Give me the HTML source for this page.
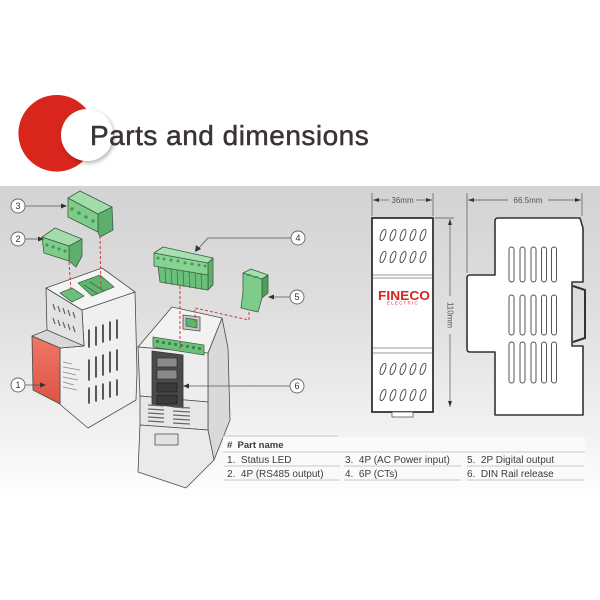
<!DOCTYPE html>
<html><head><meta charset="utf-8">
<style>
html,body{margin:0;padding:0;background:#fff;}
svg{display:block;}
text{font-family:"Liberation Sans",Arial,sans-serif;}
</style></head><body>
<svg width="600" height="600" viewBox="0 0 600 600" xmlns="http://www.w3.org/2000/svg">
<defs>
<linearGradient id="bg" x1="0" y1="0" x2="0" y2="1">
<stop offset="0" stop-color="#d3d3d3"/>
<stop offset="0.4" stop-color="#dfdfdf"/>
<stop offset="0.75" stop-color="#f0f0f0"/>
<stop offset="1" stop-color="#ffffff"/>
</linearGradient>
<linearGradient id="red" x1="0" y1="0" x2="0" y2="1">
<stop offset="0" stop-color="#ee7766"/>
<stop offset="1" stop-color="#dd5544"/>
</linearGradient>
<filter id="sh" x="-30%" y="-30%" width="160%" height="160%"><feDropShadow dx="1.5" dy="2" stdDeviation="2" flood-color="#000" flood-opacity="0.3"/></filter>
</defs>

<!-- header -->
<circle cx="56.7" cy="133.3" r="38.3" fill="#d8261d"/>
<circle cx="87" cy="135" r="26" fill="#fff" filter="url(#sh)"/>
<text x="90" y="145" font-size="28" fill="#3b3436" letter-spacing="0.5" stroke="#3b3436" stroke-width="0.5">Parts and dimensions</text>

<!-- background band -->
<rect x="0" y="186" width="600" height="314" fill="url(#bg)"/>

<!-- ===== LEFT DEVICE ===== -->
<g stroke="#4a4a4a" stroke-width="0.8" stroke-linejoin="round">
 <polygon points="82,310 135,292 137,372 136,400 88,428 63,407 60,404 60,348 84,346" fill="#efefef"/>
 <polygon points="46,288 82,310 84,346 47,332" fill="#e3e3e3"/>
 <polygon points="32,336 47,330 84,346 60,348" fill="#d8d8d8"/>
 <polygon points="32,336 60,348 60,404 33,390" fill="url(#red)"/>
 <polygon points="46,288 102,268 135,292 82,310" fill="#f4f4f4"/>
 <!-- top recesses -->
 <polygon points="60,293 72,288 84,296 72,302" fill="#6cbf7a" stroke="#3d6b45"/>
 <polygon points="78,283 100,275 114,287 92,296" fill="#5fb46e" stroke="#3d6b45"/>
 <line x1="84" y1="285" x2="98" y2="294" stroke="#3d6b45"/>
 <line x1="90" y1="282" x2="104" y2="291" stroke="#3d6b45"/>
</g>
<!-- left face small slots -->
<g stroke="#666" stroke-width="1.2">
 <line x1="53" y1="304" x2="55" y2="310"/><line x1="58" y1="306" x2="60" y2="312"/><line x1="63" y1="308" x2="65" y2="314"/><line x1="68" y1="310" x2="70" y2="316"/><line x1="73" y1="312" x2="75" y2="318"/>
 <line x1="53" y1="318" x2="55" y2="324"/><line x1="58" y1="320" x2="60" y2="326"/><line x1="63" y1="322" x2="65" y2="328"/><line x1="68" y1="324" x2="70" y2="330"/><line x1="73" y1="326" x2="75" y2="332"/>
</g>
<!-- right face slots -->
<g stroke="#333" stroke-width="1.6" stroke-linecap="round">
 <line x1="89" y1="330" x2="89" y2="347"/><line x1="96" y1="327" x2="96" y2="345"/><line x1="103" y1="325" x2="103" y2="342"/><line x1="110" y1="322" x2="110" y2="340"/><line x1="117" y1="320" x2="117" y2="338"/>
 <line x1="89" y1="360" x2="89" y2="380"/><line x1="96" y1="357" x2="96" y2="377"/><line x1="103" y1="355" x2="103" y2="375"/><line x1="110" y1="352" x2="110" y2="372"/><line x1="117" y1="350" x2="117" y2="370"/>
 <line x1="89" y1="388" x2="89" y2="403"/><line x1="96" y1="386" x2="96" y2="401"/><line x1="103" y1="384" x2="103" y2="399"/><line x1="110" y1="382" x2="110" y2="397"/><line x1="117" y1="380" x2="117" y2="395"/>
</g>
<!-- label -->
<g stroke="#888" stroke-width="0.7">
 <line x1="63" y1="362" x2="72" y2="364"/><line x1="63" y1="367" x2="80" y2="370"/><line x1="63" y1="372" x2="76" y2="375"/><line x1="63" y1="377" x2="78" y2="380"/><line x1="63" y1="382" x2="74" y2="385"/><line x1="63" y1="387" x2="77" y2="390"/>
</g>

<!-- ===== RIGHT DEVICE ===== -->
<g stroke="#4a4a4a" stroke-width="0.8" stroke-linejoin="round">
 <polygon points="208,353 222,318 228,348 230,420 214,460 208,462" fill="#d9d9d9"/>
 <polygon points="138,347 172,307 222,318 208,353" fill="#f2f2f2"/>
 <polygon points="138,347 208,353 208,402 140,396" fill="#ededed"/>
 <polygon points="140,396 208,402 208,430 140,425" fill="#e7e7e7"/>
 <polygon points="140,425 208,430 214,460 186,488 138,472" fill="#eaeaea"/>
 <!-- green strip -->
 <polygon points="153,337 204,345 204,355 153,347" fill="#6cc07c" stroke="#3d6b45"/>
 <!-- small top connector -->
 <polygon points="183,315 200,317 200,331 183,329" fill="#c9c9c9"/>
 <polygon points="186,318 197,320 197,328 186,326" fill="#5fb46e" stroke="#3d6b45"/>
 <!-- DIN release -->
 <polygon points="152,351 183,355 183,408 152,404" fill="#4b4b4b" stroke="#333"/>
 <rect x="157" y="358" width="20" height="9" fill="#8a8a8a" stroke="#333"/>
 <rect x="157" y="370" width="20" height="9" fill="#8a8a8a" stroke="#333"/>
 <rect x="157" y="383" width="20" height="9" fill="#3a3a3a" stroke="#222"/>
 <rect x="157" y="395" width="20" height="9" fill="#3a3a3a" stroke="#222"/>
 <rect x="155" y="434" width="23" height="11" fill="#e2e2e2"/>
</g>
<g fill="#3d8a4b">
 <rect x="156" y="340" width="3" height="3"/><rect x="162" y="341" width="3" height="3"/><rect x="168" y="342" width="3" height="3"/><rect x="174" y="343" width="3" height="3"/><rect x="180" y="344" width="3" height="3"/><rect x="186" y="345" width="3" height="3"/><rect x="192" y="346" width="3" height="3"/><rect x="198" y="347" width="3" height="3"/>
</g>
<g stroke="#666" stroke-width="1.3">
 <line x1="148" y1="405" x2="164" y2="406"/><line x1="148" y1="409" x2="164" y2="410"/><line x1="148" y1="413" x2="164" y2="414"/><line x1="148" y1="417" x2="164" y2="418"/><line x1="148" y1="421" x2="164" y2="422"/>
 <line x1="173" y1="407" x2="190" y2="408"/><line x1="173" y1="411" x2="190" y2="412"/><line x1="173" y1="415" x2="190" y2="416"/><line x1="173" y1="419" x2="190" y2="420"/><line x1="173" y1="423" x2="190" y2="424"/>
</g>

<!-- ===== CONNECTORS ===== -->
<g stroke="#3a5e40" stroke-width="0.8" stroke-linejoin="round">
 <!-- 3 -->
 <polygon points="98,214 112,207 113,230 100,237 98,232" fill="#5eae6c"/>
 <polygon points="68,198 98,214 98,232 68,217" fill="#7dcc89"/>
 <polygon points="68,198 80,191 112,207 98,214" fill="#a2dcaa"/>
 <!-- 2 -->
 <polygon points="69,246 82,239 82,256 76,267 69,261" fill="#5eae6c"/>
 <polygon points="42,237 69,246 69,261 44,253" fill="#7dcc89"/>
 <polygon points="42,237 55,228 82,239 69,246" fill="#a2dcaa"/>
 <!-- 4 -->
 <polygon points="208,263 213,258 213,285 208,290" fill="#5eae6c"/>
 <polygon points="158,266 208,275 208,290 160,282" fill="#6cbf7a"/>
 <polygon points="154,253 208,263 208,275 154,266" fill="#88d293"/>
 <polygon points="154,253 163,247 213,258 208,263" fill="#a8dfb0"/>
 <!-- 5 -->
 <polygon points="262,279 268,275 268,293 262,298" fill="#4e9e5c"/>
 <polygon points="243,273 262,279 262,298 258,312 241,308 243,292" fill="#7dcc89"/>
 <polygon points="243,273 251,269 268,275 262,279" fill="#a8dfb0"/>
</g>
<g fill="#4a9658">
 <circle cx="72" cy="209" r="1.8"/><circle cx="79" cy="213" r="1.8"/><circle cx="86" cy="217" r="1.8"/><circle cx="93" cy="221" r="1.8"/>
 <circle cx="47" cy="245" r="1.6"/><circle cx="53" cy="247" r="1.6"/><circle cx="59" cy="249" r="1.6"/><circle cx="65" cy="251" r="1.6"/>
 <circle cx="158" cy="258" r="1.5"/><circle cx="164" cy="259" r="1.5"/><circle cx="171" cy="260" r="1.5"/><circle cx="178" cy="261" r="1.5"/><circle cx="185" cy="263" r="1.5"/><circle cx="192" cy="264" r="1.5"/><circle cx="199" cy="265" r="1.5"/><circle cx="205" cy="266" r="1.5"/>
 <rect x="247" y="274" width="4" height="2"/><rect x="254" y="276" width="4" height="2"/>
</g>
<g stroke="#3a5e40" stroke-width="0.6">
 <line x1="165" y1="268" x2="166" y2="284"/><line x1="171" y1="269" x2="172" y2="285"/><line x1="177" y1="270" x2="178" y2="286"/><line x1="183" y1="271" x2="184" y2="287"/><line x1="189" y1="272" x2="190" y2="288"/><line x1="195" y1="273" x2="196" y2="289"/><line x1="201" y1="274" x2="202" y2="290"/>
</g>

<!-- red dashed -->
<g stroke="#d23c3c" stroke-width="1" stroke-dasharray="3,2" fill="none">
 <line x1="100" y1="236" x2="101" y2="290"/>
 <line x1="69" y1="262" x2="71" y2="292"/>
 <line x1="180" y1="286" x2="180" y2="352"/>
 <polyline points="249,312 249,320 195,308 195,322"/>
</g>

<!-- callouts -->
<g stroke="#555" stroke-width="0.8" fill="none">
 <line x1="25" y1="206" x2="63" y2="206"/>
 <line x1="25" y1="239" x2="40" y2="239"/>
 <line x1="25" y1="385" x2="42" y2="385"/>
 <polyline points="291,238 208,238 198,249"/>
 <line x1="290" y1="297" x2="271" y2="297"/>
 <line x1="290" y1="386" x2="187" y2="386"/>
</g>
<g fill="#333">
 <polygon points="67,206 61,203.5 61,208.5"/>
 <polygon points="44,239 38,236.5 38,241.5"/>
 <polygon points="46,385 40,382.5 40,387.5"/>
 <polygon points="195,252 196,245 201,249"/>
 <polygon points="268,297 274,294.5 274,299.5"/>
 <polygon points="183,386 189,383.5 189,388.5"/>
</g>
<g fill="#fff" stroke="#666" stroke-width="0.9">
 <circle cx="18" cy="206" r="7"/><circle cx="18" cy="239" r="7"/><circle cx="18" cy="385" r="7"/>
 <circle cx="298" cy="238" r="7"/><circle cx="297" cy="297" r="7"/><circle cx="297" cy="386" r="7"/>
</g>
<g font-size="9" fill="#333" text-anchor="middle">
 <text x="18" y="209.2">3</text><text x="18" y="242.2">2</text><text x="18" y="388.2">1</text>
 <text x="298" y="241.2">4</text><text x="297" y="300.2">5</text><text x="297" y="389.2">6</text>
</g>

<!-- ===== FRONT VIEW ===== -->
<rect x="372" y="218" width="61" height="194" fill="#fff" stroke="#333" stroke-width="1.8"/>
<rect x="392" y="412" width="21" height="5" fill="#fff" stroke="#555" stroke-width="0.8"/>
<g stroke="#777" stroke-width="0.8">
 <line x1="373" y1="275" x2="432" y2="275"/><line x1="373" y1="278" x2="432" y2="278"/>
 <line x1="373" y1="348" x2="432" y2="348"/><line x1="373" y1="353" x2="432" y2="353"/>
</g>
<g fill="none" stroke="#444" stroke-width="0.9">
 <ellipse cx="383" cy="235" rx="2.3" ry="6" transform="rotate(20 383 235)"/><ellipse cx="393" cy="235" rx="2.3" ry="6" transform="rotate(20 393 235)"/><ellipse cx="403" cy="235" rx="2.3" ry="6" transform="rotate(20 403 235)"/><ellipse cx="413" cy="235" rx="2.3" ry="6" transform="rotate(20 413 235)"/><ellipse cx="423" cy="235" rx="2.3" ry="6" transform="rotate(20 423 235)"/>
 <ellipse cx="383" cy="257" rx="2.3" ry="6" transform="rotate(20 383 257)"/><ellipse cx="393" cy="257" rx="2.3" ry="6" transform="rotate(20 393 257)"/><ellipse cx="403" cy="257" rx="2.3" ry="6" transform="rotate(20 403 257)"/><ellipse cx="413" cy="257" rx="2.3" ry="6" transform="rotate(20 413 257)"/><ellipse cx="423" cy="257" rx="2.3" ry="6" transform="rotate(20 423 257)"/>
 <ellipse cx="383" cy="369" rx="2.3" ry="6" transform="rotate(20 383 369)"/><ellipse cx="393" cy="369" rx="2.3" ry="6" transform="rotate(20 393 369)"/><ellipse cx="403" cy="369" rx="2.3" ry="6" transform="rotate(20 403 369)"/><ellipse cx="413" cy="369" rx="2.3" ry="6" transform="rotate(20 413 369)"/><ellipse cx="423" cy="369" rx="2.3" ry="6" transform="rotate(20 423 369)"/>
 <ellipse cx="383" cy="395" rx="2.3" ry="6" transform="rotate(20 383 395)"/><ellipse cx="393" cy="395" rx="2.3" ry="6" transform="rotate(20 393 395)"/><ellipse cx="403" cy="395" rx="2.3" ry="6" transform="rotate(20 403 395)"/><ellipse cx="413" cy="395" rx="2.3" ry="6" transform="rotate(20 413 395)"/><ellipse cx="423" cy="395" rx="2.3" ry="6" transform="rotate(20 423 395)"/>
</g>
<text x="378" y="300" font-size="13" font-weight="bold" fill="#d8261d" textLength="52" lengthAdjust="spacingAndGlyphs">FINECO</text>
<text x="387" y="304.5" font-size="4.5" fill="#d8261d" letter-spacing="1.2" font-family="Liberation Serif,serif">ELECTRIC</text>

<!-- dimensions -->
<g stroke="#555" stroke-width="0.7" fill="none">
 <line x1="372" y1="193" x2="372" y2="216"/><line x1="433" y1="193" x2="433" y2="216"/>
 <line x1="373" y1="200" x2="389" y2="200"/><line x1="416" y1="200" x2="432" y2="200"/>
 <line x1="435" y1="218" x2="454" y2="218"/>
 <line x1="450" y1="219" x2="450" y2="296"/><line x1="450" y1="334" x2="450" y2="407"/>
 <line x1="467" y1="193" x2="467" y2="273"/><line x1="582" y1="193" x2="582" y2="216"/>
 <line x1="468" y1="200" x2="508" y2="200"/><line x1="548" y1="200" x2="581" y2="200"/>
</g>
<g fill="#333">
 <polygon points="373,200 379,198 379,202"/><polygon points="432,200 426,198 426,202"/>
 <polygon points="450,219 448,225 452,225"/><polygon points="450,407 448,401 452,401"/>
 <polygon points="468,200 474,198 474,202"/><polygon points="581,200 575,198 575,202"/>
</g>
<g font-size="8" fill="#555" text-anchor="middle">
 <text x="402.5" y="203">36mm</text>
 <text x="528" y="203">66.5mm</text>
 <text x="0" y="0" transform="translate(447.5,315) rotate(90)">110mm</text>
</g>

<!-- ===== SIDE VIEW ===== -->
<path d="M498,218 L580,218 L583,228 L583,282 L572,282 L572,346 L583,346 L583,415 L495,415 L495,352 L470,352 Q467,352 467,349 L467,278 Q467,275 470,275 L495,275 L495,221 Q495,218 498,218 Z" fill="#fff" stroke="#333" stroke-width="1.6" stroke-linejoin="round"/>
<path d="M573,286 L585,290 L585,338 L573,342" fill="none" stroke="#333" stroke-width="2"/>
<g fill="#fff" stroke="#444" stroke-width="0.9">
 <rect x="509" y="247" width="5" height="35" rx="2.5"/><rect x="520" y="247" width="5" height="35" rx="2.5"/><rect x="531" y="247" width="5" height="35" rx="2.5"/><rect x="541.5" y="247" width="5" height="35" rx="2.5"/><rect x="551.5" y="247" width="5" height="35" rx="2.5"/>
 <rect x="509" y="295" width="5" height="40" rx="2.5"/><rect x="520" y="295" width="5" height="40" rx="2.5"/><rect x="531" y="295" width="5" height="40" rx="2.5"/><rect x="541.5" y="295" width="5" height="40" rx="2.5"/><rect x="551.5" y="295" width="5" height="40" rx="2.5"/>
 <rect x="509" y="342" width="5" height="41" rx="2.5"/><rect x="520" y="342" width="5" height="41" rx="2.5"/><rect x="531" y="342" width="5" height="41" rx="2.5"/><rect x="541.5" y="342" width="5" height="41" rx="2.5"/><rect x="551.5" y="342" width="5" height="41" rx="2.5"/>
</g>

<!-- ===== TABLE ===== -->
<rect x="223" y="437" width="362" height="44" fill="#fafafa"/>
<g stroke="#c8c8c8" stroke-width="0.9">
 <line x1="223" y1="436" x2="338" y2="436"/>
 <line x1="223" y1="452" x2="585" y2="452"/>
 <line x1="224" y1="466" x2="340" y2="466"/><line x1="344" y1="466" x2="461" y2="466"/><line x1="467" y1="466" x2="584" y2="466"/>
 <line x1="224" y1="480" x2="340" y2="480"/><line x1="344" y1="480" x2="461" y2="480"/><line x1="467" y1="480" x2="584" y2="480"/>
</g>
<g font-size="10" fill="#3c3c3c">
 <text x="227" y="448" font-weight="bold" font-size="9.5">#&#160;&#160;Part name</text>
 <text x="227" y="463">1.&#160;&#160;Status LED</text>
 <text x="345" y="463">3.&#160;&#160;4P (AC Power input)</text>
 <text x="467" y="463">5.&#160;&#160;2P Digital output</text>
 <text x="227" y="477">2.&#160;&#160;4P (RS485 output)</text>
 <text x="345" y="477">4.&#160;&#160;6P (CTs)</text>
 <text x="467" y="477">6.&#160;&#160;DIN Rail release</text>
</g>
</svg>
</body></html>
